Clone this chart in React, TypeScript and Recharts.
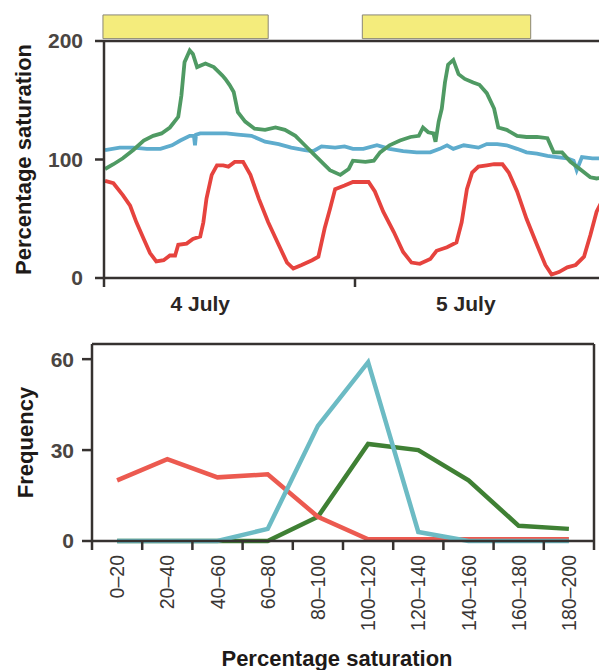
import {
  LineChart,
  Line,
  XAxis,
  YAxis,
  ReferenceArea,
  ReferenceLine,
} from "recharts";

// top panel: saturation through two days (hours from start of 4 July)
const redHours = [0.1, 0.9, 1.8, 2.5, 3.1, 3.8, 4.4, 5.0, 5.7, 6.3, 6.8, 7.1, 7.9, 8.5, 9.2, 9.5, 9.8, 10.3, 10.8, 11.4, 11.9, 12.5, 13.3, 14.0, 14.8, 15.7, 16.7, 17.5, 18.1, 18.9, 19.9, 20.5, 21.1, 21.6, 22.1, 23.0, 23.8, 24.5, 25.3, 25.9, 26.7, 27.7, 28.6, 29.4, 30.2, 31.2, 31.8, 32.8, 33.7, 34.2, 34.7, 35.2, 35.8, 36.6, 37.3, 38.1, 38.7, 39.5, 40.4, 41.4, 42.2, 42.8, 43.5, 44.3, 45.1, 45.9, 46.5, 47.1, 47.9];
const redSat = [82, 80, 70, 61, 47, 33, 21, 14, 15, 19, 19, 28, 29, 33, 35, 47, 67, 87, 95, 95, 94, 98, 98, 87, 67, 47, 28, 13, 8, 11, 15, 18, 42, 58, 75, 78, 81, 81, 81, 73, 56, 39, 22, 13, 12, 16, 23, 26, 30, 47, 75, 89, 94, 95, 96, 96, 89, 73, 50, 28, 11, 3, 5, 9, 11, 18, 36, 56, 70];

const greenHours = [0.1, 0.9, 1.8, 2.8, 3.8, 4.7, 5.5, 6.3, 7.1, 7.4, 7.7, 8.2, 8.5, 8.9, 9.7, 10.5, 11.3, 11.6, 12.0, 12.4, 12.8, 13.5, 14.4, 15.4, 16.4, 17.3, 18.3, 19.2, 20.0, 20.8, 21.6, 22.6, 23.4, 23.8, 25.0, 25.8, 26.4, 27.3, 28.3, 29.3, 30.1, 30.5, 31.0, 31.5, 31.7, 32.0, 32.3, 32.6, 32.9, 33.4, 33.9, 34.5, 35.3, 35.9, 36.6, 37.3, 37.7, 38.5, 39.5, 40.4, 41.4, 42.4, 43.0, 43.8, 44.6, 45.5, 46.5, 47.1, 47.9];
const greenSat = [92, 96, 101, 108, 116, 120, 122, 127, 136, 154, 182, 192, 189, 178, 181, 178, 171, 168, 163, 157, 140, 132, 126, 125, 127, 125, 120, 112, 105, 98, 91, 87, 92, 99, 98, 99, 106, 112, 116, 119, 120, 127, 123, 122, 115, 132, 143, 165, 180, 184, 172, 168, 165, 163, 156, 143, 127, 125, 120, 119, 119, 118, 106, 106, 98, 92, 85, 84, 85];

const blueHours = [0.1, 1.5, 2.8, 4.1, 5.4, 6.5, 7.3, 8.2, 8.6, 8.7, 8.8, 9.2, 10.5, 11.7, 12.8, 14.1, 15.4, 16.7, 17.9, 19.2, 20.0, 20.8, 22.1, 23.0, 23.8, 24.8, 26.1, 27.3, 28.6, 29.9, 31.2, 32.1, 32.8, 33.4, 34.4, 35.8, 36.6, 37.6, 38.5, 39.5, 40.4, 41.4, 42.4, 43.3, 44.3, 44.9, 45.2, 45.7, 46.7, 47.9];
const blueSat = [108, 110, 110, 109, 109, 112, 116, 120, 120, 112, 121, 122, 122, 122, 121, 120, 115, 113, 110, 108, 107, 111, 110, 111, 109, 109, 112, 109, 107, 106, 106, 109, 112, 109, 112, 110, 113, 113, 112, 109, 106, 105, 103, 102, 101, 99, 91, 102, 101, 101];

const lightStart = [-0.1, 24.7];
const lightEnd = [15.7, 40.8];
const dayLabels = ["4 July", "5 July"];
const dayLabelHours = [9.2, 34.6];
const dayTicks = [0, 24, 48];
const satTicks = [0, 100, 200];

// bottom panel: frequency distribution
const classes = ["0–20", "20–40", "40–60", "60–80", "80–100", "100–120", "120–140", "140–160", "160–180", "180–200"];
const freqRed = [20, 27, 21, 22, 8, 0.6, 0.6, 0.6, 0.6, 0.6];
const freqBlue = [0, 0, 0, 4, 38, 59, 3, 0, 0, 0];
const freqGreen = [0, 0, 0, 0, 8, 32, 30, 20, 5, 4];
const freqTicks = [0, 30, 60];

const RED = "#e6433e";
const GREEN = "#4f9a63";
const BLUE = "#5eaccd";
const AXIS = "#363230";
const FONT = "'Liberation Sans', Arial, sans-serif";

const zip = (hs: number[], vs: number[]) => hs.map((h, i) => ({ h, v: vs[i] }));
const redData = zip(redHours, redSat);
const greenData = zip(greenHours, greenSat);
const blueData = zip(blueHours, blueSat);

const histData = classes.map((c, i) => ({
  x: i + 0.5,
  name: c,
  red: freqRed[i],
  blue: freqBlue[i],
  green: freqGreen[i],
}));
const histTicks: number[] = [];
for (let i = 0; i <= classes.length; i++) {
  histTicks.push(i);
  if (i < classes.length) histTicks.push(i + 0.5);
}

const numTick = { fontFamily: FONT, fontSize: 21, fontWeight: "bold", fill: "#4a4542" };

function DayTick(props: any) {
  const { x, y, payload } = props;
  const idx = dayLabelHours.indexOf(payload.value);
  if (idx >= 0) {
    return (
      <text x={x} y={y + 33} textAnchor="middle" fontFamily={FONT} fontWeight="bold" fontSize={21} fill="#2a2624">
        {dayLabels[idx]}
      </text>
    );
  }
  return <line x1={x} x2={x} y1={y} y2={y + 9} stroke={AXIS} strokeWidth={2.5} />;
}

function ClassTick(props: any) {
  const { x, y, payload } = props;
  const v = payload.value;
  if (Number.isInteger(v)) {
    return <line x1={x} x2={x} y1={y} y2={y + 9} stroke={AXIS} strokeWidth={2.5} />;
  }
  const label = classes[Math.floor(v)];
  const ty = y + 14;
  return (
    <text
      x={x}
      y={ty}
      transform={`rotate(-90 ${x} ${ty})`}
      textAnchor="end"
      dominantBaseline="central"
      fontFamily={FONT}
      fontSize={19.5}
      fill="#3a3634"
    >
      {label}
    </text>
  );
}

function SideLabel(text: string, dx: number) {
  return (props: any) => {
    const vb = props.viewBox;
    const cx = vb.x + dx;
    const cy = vb.y + vb.height / 2;
    return (
      <text
        x={cx}
        y={cy}
        transform={`rotate(-90 ${cx} ${cy})`}
        textAnchor="middle"
        dominantBaseline="central"
        fontFamily={FONT}
        fontWeight="bold"
        fontSize={22}
        fill="#1e1a18"
      >
        {text}
      </text>
    );
  };
}

function BottomTitle(props: any) {
  const vb = props.viewBox;
  return (
    <text
      x={vb.x + vb.width / 2 - 6}
      y={vb.y + 125}
      textAnchor="middle"
      fontFamily={FONT}
      fontWeight="bold"
      fontSize={22}
      fill="#1e1a18"
    >
      Percentage saturation
    </text>
  );
}

export default function App() {
  return (
    <div style={{ marginLeft: -8, marginTop: -8, width: 607, height: 670, background: "#fff" }}>
      <LineChart width={607} height={320} margin={{ top: 41, right: 1, bottom: 0, left: 0 }}>
        <XAxis
          dataKey="h"
          type="number"
          domain={[0, 48]}
          ticks={[...dayTicks, ...dayLabelHours].sort((a, b) => a - b)}
          interval={0}
          height={42}
          tickSize={0}
          tickMargin={0}
          tickLine={false}
          tick={<DayTick />}
          axisLine={{ stroke: AXIS, strokeWidth: 2.5 }}
          allowDataOverflow
        />
        <YAxis
          type="number"
          domain={[0, 200]}
          ticks={satTicks}
          width={104}
          tickSize={9}
          tickMargin={12}
          tickLine={{ stroke: AXIS, strokeWidth: 2.5 }}
          axisLine={{ stroke: AXIS, strokeWidth: 2.5 }}
          tick={numTick}
          label={{ content: SideLabel("Percentage saturation", 23) }}
          allowDataOverflow
        />
        {lightStart.map((s, i) => (
          <ReferenceArea
            key={i}
            x1={s}
            x2={lightEnd[i]}
            y1={202}
            y2={222}
            ifOverflow="visible"
            fill="#f4ec7c"
            fillOpacity={1}
            stroke="#8a8676"
            strokeWidth={1}
          />
        ))}
        <ReferenceLine y={200} stroke={AXIS} strokeWidth={2.5} ifOverflow="visible" />
        <ReferenceLine x={48} stroke={AXIS} strokeWidth={2.5} ifOverflow="visible" />
        <Line data={blueData} dataKey="v" stroke={BLUE} strokeWidth={3.8} dot={false} isAnimationActive={false} />
        <Line data={greenData} dataKey="v" stroke={GREEN} strokeWidth={3.8} dot={false} isAnimationActive={false} />
        <Line data={redData} dataKey="v" stroke={RED} strokeWidth={3.8} dot={false} isAnimationActive={false} />
      </LineChart>

      <LineChart width={607} height={350} data={histData} margin={{ top: 24, right: 13, bottom: 0, left: 0 }}>
        <XAxis
          dataKey="x"
          type="number"
          domain={[0, classes.length]}
          ticks={histTicks}
          interval={0}
          height={129}
          tickSize={0}
          tickMargin={0}
          tickLine={false}
          tick={<ClassTick />}
          axisLine={{ stroke: AXIS, strokeWidth: 2.5 }}
          label={{ content: BottomTitle }}
        />
        <YAxis
          type="number"
          domain={[0, 65]}
          ticks={freqTicks}
          width={92}
          tickSize={10}
          tickMargin={8}
          tickLine={{ stroke: AXIS, strokeWidth: 2.5 }}
          axisLine={{ stroke: AXIS, strokeWidth: 2.5 }}
          tick={numTick}
          label={{ content: SideLabel("Frequency", 25) }}
        />
        <ReferenceLine y={65} stroke={AXIS} strokeWidth={2.5} ifOverflow="visible" />
        <ReferenceLine x={classes.length} stroke={AXIS} strokeWidth={2.5} ifOverflow="visible" />
        <Line dataKey="green" stroke="#3f8034" strokeWidth={4.5} dot={false} isAnimationActive={false} />
        <Line dataKey="red" stroke="#ec5a50" strokeWidth={4.5} dot={false} isAnimationActive={false} />
        <Line dataKey="blue" stroke="#6cbbc4" strokeWidth={4.5} dot={false} isAnimationActive={false} />
      </LineChart>
    </div>
  );
}
